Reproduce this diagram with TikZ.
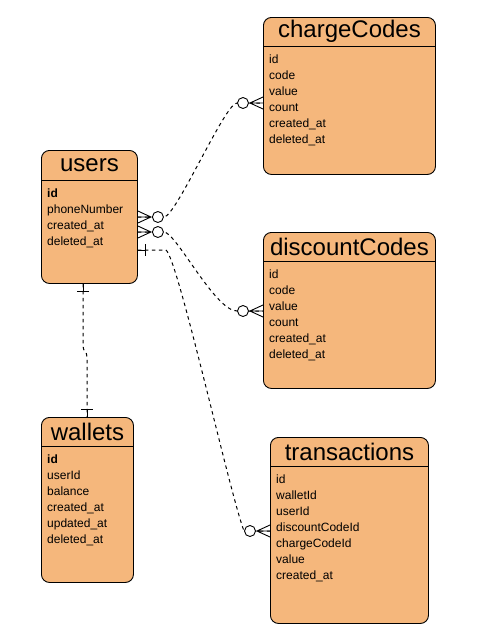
\documentclass[tikz,border=0pt]{standalone}
\usepackage{fontspec}
\setmainfont{Liberation Sans}
\usetikzlibrary{positioning}
\usetikzlibrary{calc}
\definecolor{tablefill}{RGB}{245,183,124}

\tikzset{
  tablebox/.style={draw=black, line width=0.9pt, fill=tablefill, rounded corners=8pt, anchor=north west, inner sep=0pt},
  tabletitle/.style={font=\fontsize{24}{24}\selectfont, inner sep=0pt},
  tablefields/.style={font=\fontsize{12}{16}\selectfont, align=left, anchor=north west, inner sep=0pt},
  link/.style={draw=black, line width=1pt, dash pattern=on 3.5pt off 3.5pt},
  zeromany/.pic={
    \draw[line width=0.9pt] (0,-6) -- (13,0) -- (0,6) (0,0) -- (13,0);
    \draw[line width=0.9pt, fill=white] (20,0) circle[radius=5.5];
  },
  onebar/.pic={
    \draw[line width=0.9pt] (0,0) -- (8,0) (8,-6) -- (8,6);
  },
}

\begin{document}
\begin{tikzpicture}[x=1pt, y=-1pt]
    \useasboundingbox (0,0) rectangle (479,630);

    % tables
    \node[tablebox, minimum width=96pt, minimum height=133pt] (users) at (41,150) {};
    \node[tablebox, minimum width=172pt, minimum height=157pt] (charge) at (263,17) {};
    \node[tablebox, minimum width=172pt, minimum height=156pt] (discount) at (263,232) {};
    \node[tablebox, minimum width=92pt, minimum height=165pt] (wallets) at (41,417) {};
    \node[tablebox, minimum width=158pt, minimum height=186pt] (trans) at (270,437) {};

    % header lines
    \draw[line width=0.9pt] ($(users.north west)+(0,30)$) -- ($(users.north east)+(0,30)$);
    \draw[line width=0.9pt] ($(charge.north west)+(0,29)$) -- ($(charge.north east)+(0,29)$);
    \draw[line width=0.9pt] ($(discount.north west)+(0,29)$) -- ($(discount.north east)+(0,29)$);
    \draw[line width=0.9pt] ($(wallets.north west)+(0,29)$) -- ($(wallets.north east)+(0,29)$);
    \draw[line width=0.9pt] ($(trans.north west)+(0,29)$) -- ($(trans.north east)+(0,29)$);

    % titles
    \node[tabletitle] (users-title) at ($(users.north)+(0,15)$) {users};
    \node[tabletitle] (charge-title) at ($(charge.north)+(0,14.5)$) {chargeCodes};
    \node[tabletitle] (discount-title) at ($(discount.north)+(0,14.5)$) {discountCodes};
    \node[tabletitle] (wallets-title) at ($(wallets.north)+(0,14.5)$) {wallets};
    \node[tabletitle] (trans-title) at ($(trans.north)+(0,14.5)$) {transactions};

    % fields
    \node[tablefields] (users-fields) at ($(users.north west)+(6,39)$)
        {\textbf{id}\\phoneNumber\\created\_at\\deleted\_at};
    \node[tablefields] (charge-fields) at ($(charge.north west)+(6,38)$)
        {id\\code\\value\\count\\created\_at\\deleted\_at};
    \node[tablefields] (discount-fields) at ($(discount.north west)+(6,38)$)
        {id\\code\\value\\count\\created\_at\\deleted\_at};
    \node[tablefields] (wallets-fields) at ($(wallets.north west)+(6,38)$)
        {\textbf{id}\\userId\\balance\\created\_at\\updated\_at\\deleted\_at};
    \node[tablefields] (trans-fields) at ($(trans.north west)+(6,38)$)
        {id\\walletId\\userId\\discountCodeId\\chargeCodeId\\value\\created\_at};

    % connector ends
    \coordinate (users-cc) at ($(users.north east)+(0,67)$);
    \coordinate (users-dc) at ($(users.north east)+(0,82)$);
    \coordinate (users-tr) at ($(users.north east)+(0,100)$);
    \coordinate (users-wl) at ($(users.south west)+(42,0)$);
    \coordinate (charge-in) at ($(charge.north west)+(0,86)$);
    \coordinate (discount-in) at ($(discount.north west)+(0,79)$);
    \coordinate (trans-in) at ($(trans.north west)+(0,94)$);
    \coordinate (wallets-in) at ($(wallets.north west)+(46,0)$);

    % relations
    \draw[link] (users-cc) -- ++(26,0) .. controls +(12,0) and +(-12,0) .. ($(charge-in)+(-26,0)$) -- (charge-in);
    \draw[link] (users-dc) -- ++(26,0) .. controls +(12,0) and +(-22,0) .. ($(discount-in)+(-26,0)$) -- (discount-in);
    \draw[link] (users-tr) -- ++(28,0) .. controls +(12,8) and +(-15,-40) .. ($(trans-in)+(-26,0)$) -- (trans-in);
    \draw[link] (users-wl) -- ++(0,62) .. controls +(0,6) and +(0,-6) .. ($(wallets-in)+(0,-60)$) -- (wallets-in);

    % end marks
    \pic at (users-cc) {zeromany};
    \pic at (users-dc) {zeromany};
    \pic[rotate=180] at (charge-in) {zeromany};
    \pic[rotate=180] at (discount-in) {zeromany};
    \pic[rotate=180] at (trans-in) {zeromany};
    \pic at (users-tr) {onebar};
    \pic[rotate=-90] at (users-wl) {onebar};
    \pic[rotate=90] at (wallets-in) {onebar};
\end{tikzpicture}
\end{document}
